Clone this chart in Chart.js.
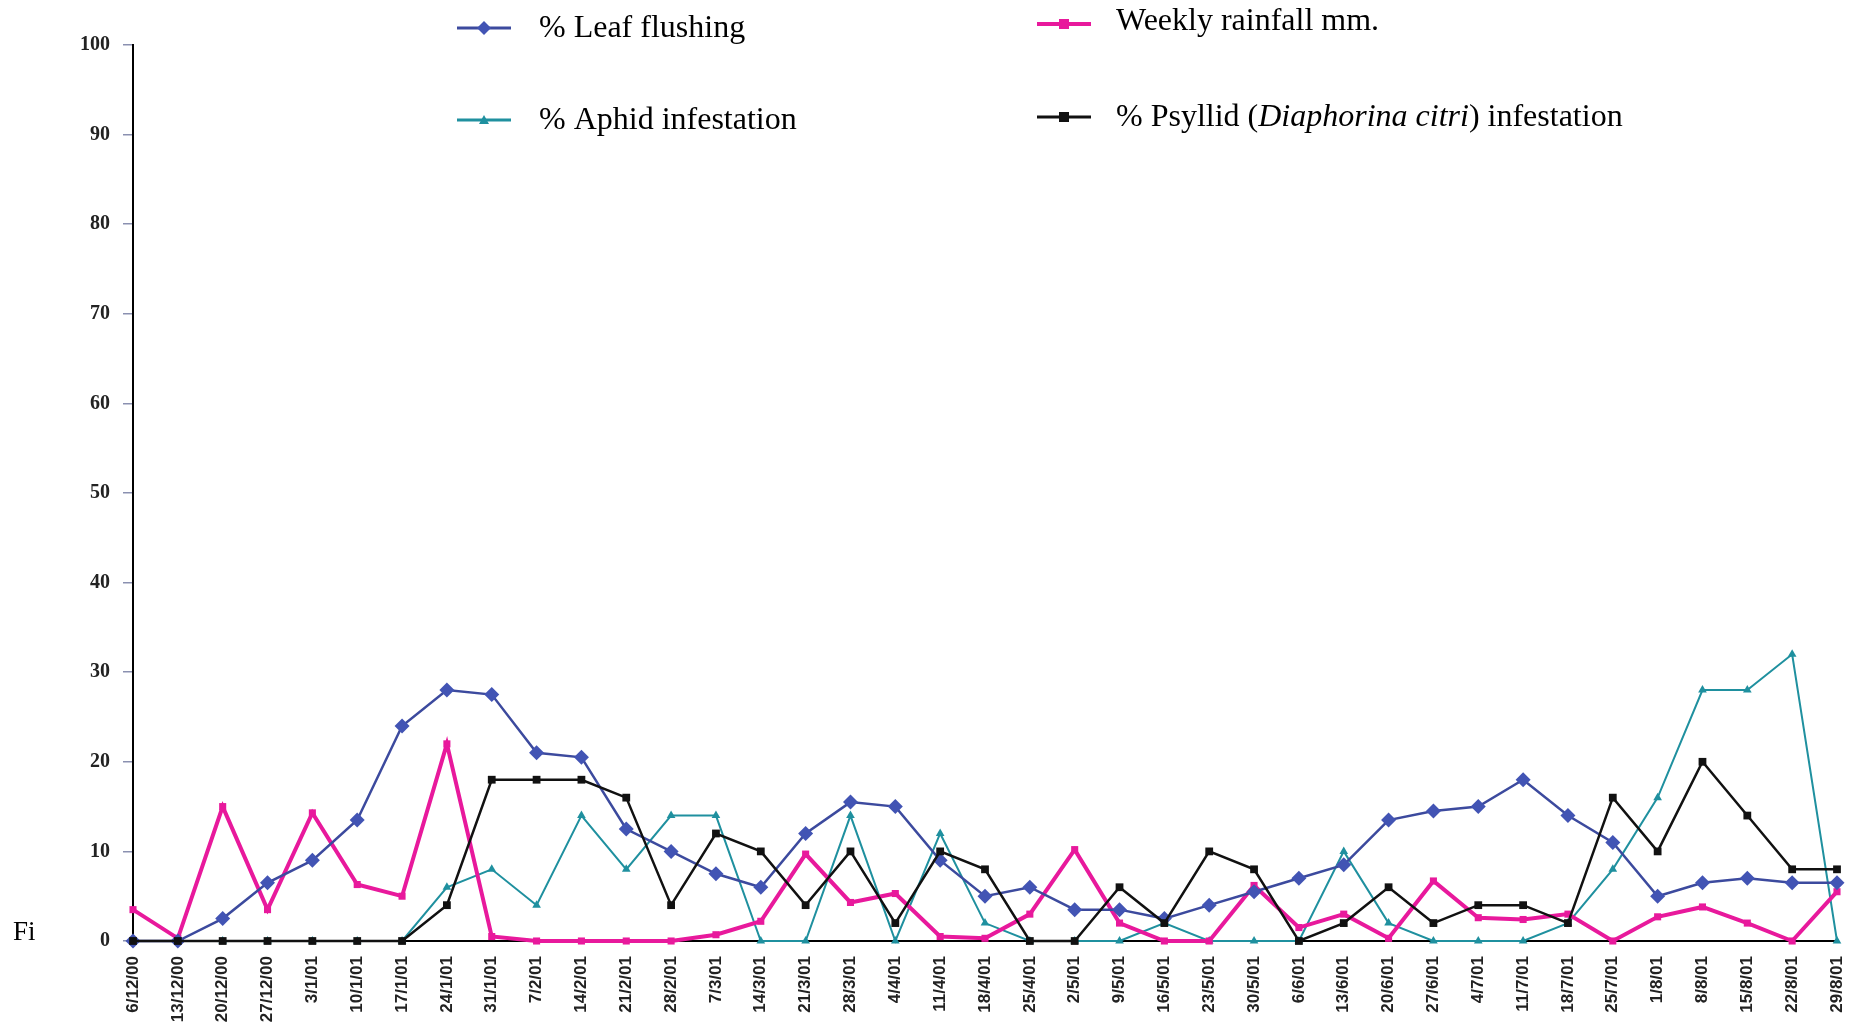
<!DOCTYPE html>
<html>
<head>
<meta charset="utf-8">
<script src="https://cdn.jsdelivr.net/npm/chart.js@4"></script>
<style>
  html, body { margin: 0; padding: 0; background: #fff; }
  #wrap { width: 1858px; height: 1031px; }
</style>
</head>
<body>
<div id="wrap"><canvas id="myChart" width="1858" height="1031"></canvas></div>
<script>
const weeks = ['6/12/00', '13/12/00', '20/12/00', '27/12/00', '3/1/01', '10/1/01', '17/1/01', '24/1/01',
    '31/1/01', '7/2/01', '14/2/01', '21/2/01', '28/2/01', '7/3/01', '14/3/01', '21/3/01', '28/3/01',
    '4/4/01', '11/4/01', '18/4/01', '25/4/01', '2/5/01', '9/5/01', '16/5/01', '23/5/01', '30/5/01',
    '6/6/01', '13/6/01', '20/6/01', '27/6/01', '4/7/01', '11/7/01', '18/7/01', '25/7/01', '1/8/01',
    '8/8/01', '15/8/01', '22/8/01', '29/8/01'];

const leafFlushing = [0, 0, 2.5, 6.5, 9, 13.5, 24, 28, 27.5, 21, 20.5, 12.5, 10, 7.5, 6, 12, 15.5,
    15, 9, 5, 6, 3.5, 3.5, 2.5, 4, 5.5, 7, 8.5, 13.5, 14.5, 15, 18, 14, 11, 5, 6.5, 7, 6.5, 6.5];

const rainfall = [3.5, 0.3, 15, 3.5, 14.3, 6.3, 5, 22, 0.5, 0, 0, 0, 0, 0.7, 2.2, 9.7, 4.3,
    5.3, 0.5, 0.3, 3, 10.2, 2, 0, 0, 6.2, 1.5, 3, 0.3, 6.7, 2.6, 2.4, 3, 0, 2.7, 3.8, 2, 0, 5.5];

const aphid = [0, 0, 0, 0, 0, 0, 0, 6, 8, 4, 14, 8, 14, 14, 0, 0, 14,
    0, 12, 2, 0, 0, 0, 2, 0, 0, 0, 10, 2, 0, 0, 0, 2, 8, 16, 28, 28, 32, 0];

const psyllid = [0, 0, 0, 0, 0, 0, 0, 4, 18, 18, 18, 16, 4, 12, 10, 4, 10,
    2, 10, 8, 0, 0, 6, 2, 10, 8, 0, 2, 6, 2, 4, 4, 2, 16, 10, 20, 14, 8, 8];

const yTicks = [0, 10, 20, 30, 40, 50, 60, 70, 80, 90, 100];

const BLUE = '#3c4a9e', BLUE_PT = '#4254b4';
const PINK = '#e8199c';
const TEAL = '#1f909f';
const BLACK = '#111111';

// legend drawn by hand (two columns, italic species name)
const legendPlugin = {
    id: 'handLegend',
    afterDraw(chart) {
        const ctx = chart.ctx;
        ctx.save();

        function marker(kind, x, y, color) {
            ctx.fillStyle = color;
            ctx.beginPath();
            if (kind === 'diamond') {
                ctx.moveTo(x, y - 7); ctx.lineTo(x + 7, y); ctx.lineTo(x, y + 7); ctx.lineTo(x - 7, y);
            } else if (kind === 'tri') {
                ctx.moveTo(x, y - 5); ctx.lineTo(x + 5, y + 4); ctx.lineTo(x - 5, y + 4);
            } else {
                ctx.rect(x - 5, y - 5, 10, 10);
            }
            ctx.closePath();
            ctx.fill();
        }
        function item(x, y, color, width, kind, ptColor) {
            ctx.strokeStyle = color;
            ctx.lineWidth = width;
            ctx.beginPath();
            ctx.moveTo(x, y);
            ctx.lineTo(x + 54, y);
            ctx.stroke();
            marker(kind, x + 27, y, ptColor);
        }

        item(457, 28, BLUE, 3, 'diamond', BLUE_PT);
        item(457, 120, TEAL, 3, 'tri', TEAL);
        item(1037, 24, PINK, 4, 'rect', PINK);
        item(1037, 117, BLACK, 3, 'rect', BLACK);

        ctx.fillStyle = '#000';
        ctx.textBaseline = 'middle';
        ctx.textAlign = 'left';
        ctx.font = '32px "Liberation Serif"';
        ctx.fillText('% Leaf flushing', 539, 29);
        ctx.fillText('% Aphid infestation', 539, 121);
        ctx.fillText('Weekly rainfall mm.', 1116, 22);

        let x = 1116;
        const parts = [['% Psyllid (', ''], ['Diaphorina citri', 'italic '], [') infestation', '']];
        parts.forEach(p => {
            ctx.font = p[1] + '32px "Liberation Serif"';
            ctx.fillText(p[0], x, 118);
            x += ctx.measureText(p[0]).width;
        });

        ctx.font = '27px "Liberation Serif"';
        ctx.textBaseline = 'alphabetic';
        ctx.fillText('Fi', 13, 940);
        ctx.restore();
    }
};

let ctx = document.getElementById('myChart').getContext('2d');

new Chart(ctx, {
    type: 'line',
    data: {
        labels: weeks,
        datasets: [
            {
                label: '% Leaf flushing',
                data: leafFlushing,
                order: 1,
                clip: false,
                borderColor: BLUE,
                backgroundColor: BLUE_PT,
                borderWidth: 2.5,
                pointStyle: 'rectRot',
                pointRadius: 7.5,
                pointBorderWidth: 0
            },
            {
                label: 'Weekly rainfall mm.',
                data: rainfall,
                order: 2,
                clip: false,
                borderColor: PINK,
                backgroundColor: PINK,
                borderWidth: 4,
                pointStyle: 'rect',
                pointRadius: 5,
                pointBorderWidth: 0
            },
            {
                label: '% Aphid infestation',
                data: aphid,
                order: 3,
                clip: false,
                borderColor: TEAL,
                backgroundColor: TEAL,
                borderWidth: 2,
                pointStyle: 'triangle',
                pointRadius: 5,
                pointBorderWidth: 0
            },
            {
                label: '% Psyllid (Diaphorina citri) infestation',
                data: psyllid,
                order: 0,
                clip: false,
                borderColor: BLACK,
                backgroundColor: BLACK,
                borderWidth: 2.5,
                pointStyle: 'rect',
                pointRadius: 5.5,
                pointBorderWidth: 0
            }
        ]
    },
    options: {
        responsive: false,
        animation: false,
        tension: 0,
        layout: {
            padding: { left: 0, right: 21, top: 45, bottom: 0 }
        },
        plugins: {
            legend: { display: false },
            tooltip: { enabled: false }
        },
        scales: {
            x: {
                offset: false,
                grid: { display: false },
                border: { display: true, color: '#000', width: 2 },
                ticks: {
                    autoSkip: false,
                    maxRotation: 90,
                    minRotation: 90,
                    padding: 7,
                    color: '#222',
                    font: { family: 'Liberation Sans', size: 17, weight: 'bold' }
                },
                afterFit: function(scale) {
                    scale.height = 90;
                    scale.paddingLeft = 2;
                    scale.paddingRight = 0;
                }
            },
            y: {
                min: 0,
                max: 100,
                afterBuildTicks: function(scale) {
                    scale.ticks = yTicks.map(v => ({ value: v }));
                },
                grid: {
                    display: true,
                    drawOnChartArea: false,
                    drawTicks: true,
                    tickLength: 10,
                    color: '#8a90b0',
                    lineWidth: 1.5
                },
                border: { display: true, color: '#000', width: 2 },
                ticks: {
                    padding: 13,
                    color: '#222',
                    font: { family: 'Liberation Serif', size: 20, weight: 'bold' }
                },
                afterFit: function(scale) { scale.width = 133; }
            }
        }
    },
    plugins: [legendPlugin]
});
</script>
</body>
</html>
